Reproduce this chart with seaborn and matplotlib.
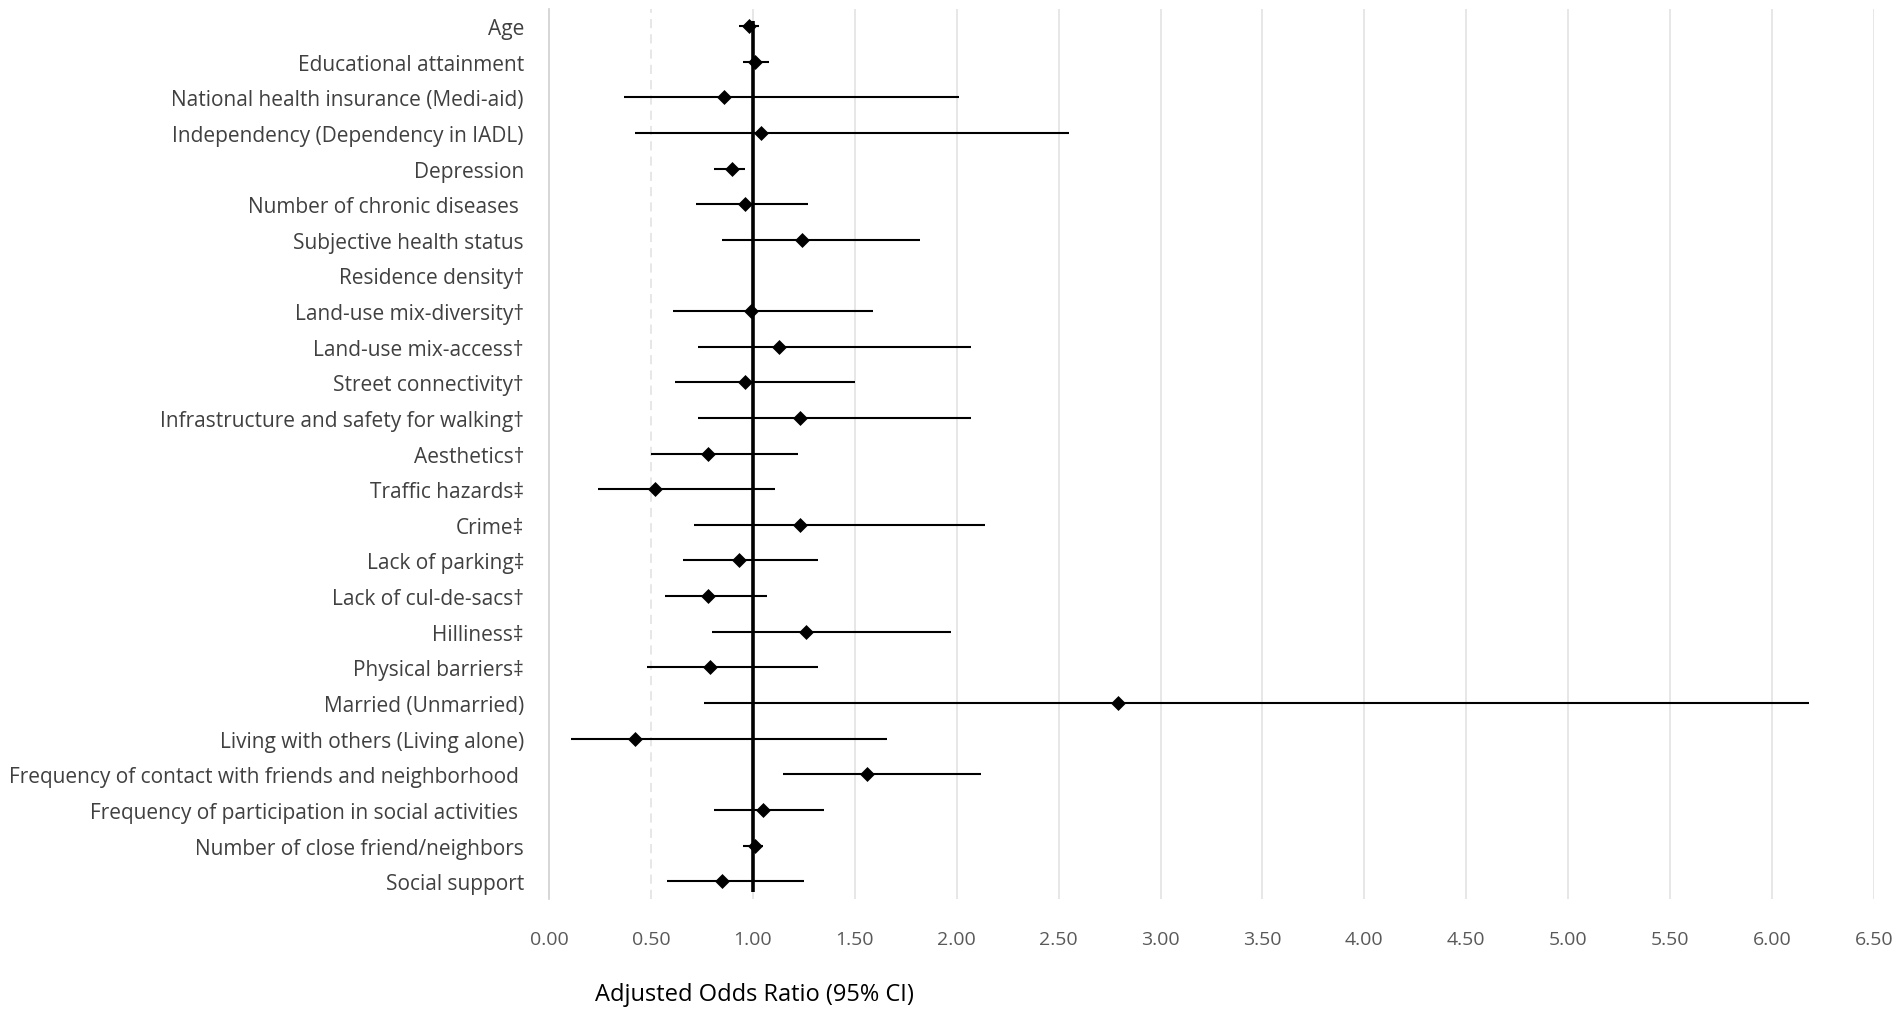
import numpy as np
import matplotlib
matplotlib.use("Agg")
import matplotlib.pyplot as plt
import seaborn as sns

# Data
LABELS = [
    "Age",
    "Educational attainment",
    "National health insurance (Medi-aid)",
    "Independency (Dependency in IADL)",
    "Depression",
    "Number of chronic diseases ",
    "Subjective health status",
    "Residence density\u2020",
    "Land-use mix-diversity\u2020",
    "Land-use mix-access\u2020",
    "Street connectivity\u2020",
    "Infrastructure and safety for walking\u2020",
    "Aesthetics\u2020",
    "Traffic hazards\u2021",
    "Crime\u2021",
    "Lack of parking\u2021",
    "Lack of cul-de-sacs\u2020",
    "Hilliness\u2021",
    "Physical barriers\u2021",
    "Married (Unmarried)",
    "Living with others (Living alone)",
    "Frequency of contact with friends and neighborhood ",
    "Frequency of participation in social activities ",
    "Number of close friend/neighbors",
    "Social support",
]
AOR = [0.98, 1.01, 0.86, 1.04, 0.90, 0.96, 1.24, np.nan, 0.99, 1.13, 0.96, 1.23, 0.78,
       0.52, 1.23, 0.93, 0.78, 1.26, 0.79, 2.79, 0.42, 1.56, 1.05, 1.01, 0.85]
CI_LOW = [0.93, 0.95, 0.37, 0.42, 0.81, 0.72, 0.85, np.nan, 0.61, 0.73, 0.62, 0.73, 0.50,
          0.24, 0.71, 0.66, 0.57, 0.80, 0.48, 0.76, 0.11, 1.15, 0.81, 0.95, 0.58]
CI_HIGH = [1.03, 1.08, 2.01, 2.55, 0.96, 1.27, 1.82, np.nan, 1.59, 2.07, 1.50, 2.07, 1.22,
           1.11, 2.14, 1.32, 1.07, 1.97, 1.32, 6.18, 1.66, 2.12, 1.35, 1.05, 1.25]
X_TICKS = np.arange(0, 6.51, 0.5)

sns.set_theme(style="white")
plt.rcParams['font.family'] = ['Open Sans', 'DejaVu Sans']

fig = plt.figure(figsize=(19.02, 10.12), dpi=100)
ax = fig.add_axes([0.2886, 0.1107, 0.6967, 0.8795])

ypos = np.arange(len(LABELS))

# Grid lines (the 0.50 one is dashed in the original)
for xv in X_TICKS[1:]:
    ls = (0, (6, 4)) if np.isclose(xv, 0.5) else "-"
    ax.axvline(xv, color="#e0e0e0", lw=1.1, ls=ls, zorder=0)

# Reference line at OR = 1
ax.vlines(1.0, -0.15, len(LABELS) - 0.7, color="black", lw=2.6, zorder=2)

# Confidence intervals
ax.hlines(ypos, CI_LOW, CI_HIGH, color="black", lw=1.5, zorder=3)

# Point estimates
sns.scatterplot(x=AOR, y=ypos, marker="D", s=58, color="black",
                edgecolor="black", linewidth=0, ax=ax, zorder=4)

ax.set_xlim(0, 6.5)
ax.set_ylim(len(LABELS) - 0.5, -0.48)
ax.set_xticks(X_TICKS)
ax.set_xticklabels([f"{v:.2f}" for v in X_TICKS], color="#595959", fontsize=14)
ax.set_yticks(ypos)
ax.set_yticklabels(LABELS, color="#404040", fontsize=15)
ax.tick_params(axis="both", length=0)
ax.tick_params(axis="y", pad=18)
ax.tick_params(axis="x", pad=22)

for side in ["top", "right", "bottom"]:
    ax.spines[side].set_visible(False)
ax.spines["left"].set_color("#d0d0d0")
ax.spines["left"].set_linewidth(1.2)

ax.set_xlabel("Adjusted Odds Ratio (95% CI)", fontsize=17, color="black")
ax.xaxis.set_label_coords(0.155, -0.093)

plt.savefig("out.png", dpi=100)
plt.close()
